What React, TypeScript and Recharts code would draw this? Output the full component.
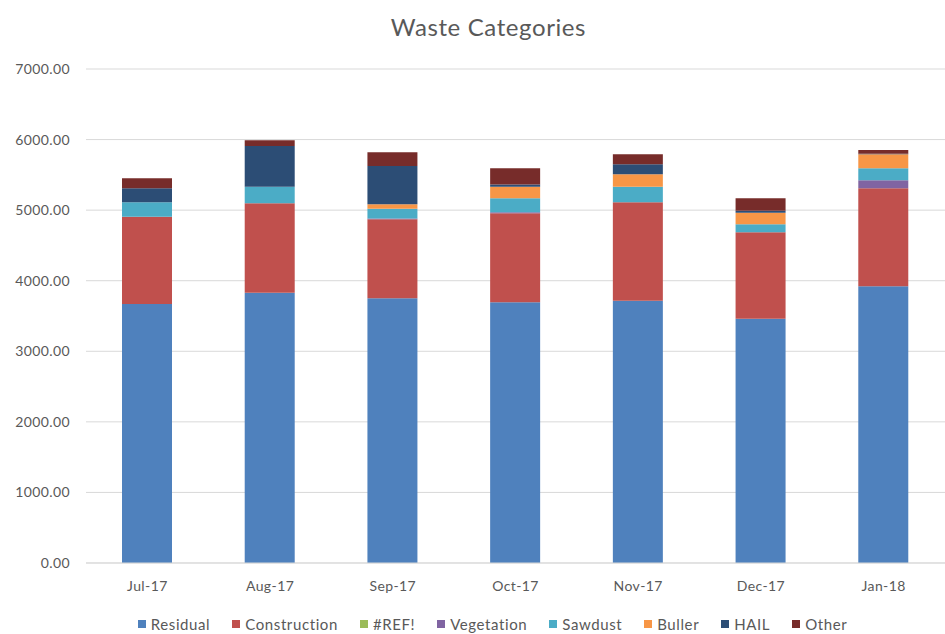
import { BarChart, Bar, XAxis, YAxis, CartesianGrid, Legend } from 'recharts'

const months = ['Jul-17', 'Aug-17', 'Sep-17', 'Oct-17', 'Nov-17', 'Dec-17', 'Jan-18']

const residual     = [3670, 3830, 3751, 3694, 3717, 3462, 3921]
const construction = [1237, 1267, 1119, 1261, 1394, 1224, 1389]
const refErr       = [0, 0, 0, 0, 0, 0, 0]
const vegetation   = [0, 0, 12, 15, 0, 0, 113]
const sawdust      = [204, 236, 139, 197, 222, 113, 170]
const buller       = [0, 0, 62, 165, 175, 165, 198]
const hail         = [199, 576, 543, 33, 142, 28, 8]
const other        = [141, 81, 194, 227, 141, 176, 53]

const yTicks = [0, 1000, 2000, 3000, 4000, 5000, 6000, 7000]

const series = [
  { key: 'Residual', values: residual, color: '#4f81bd' },
  { key: 'Construction', values: construction, color: '#c0504d' },
  { key: '#REF!', values: refErr, color: '#9bbb59' },
  { key: 'Vegetation', values: vegetation, color: '#8064a2' },
  { key: 'Sawdust', values: sawdust, color: '#4bacc6' },
  { key: 'Buller', values: buller, color: '#f79646' },
  { key: 'HAIL', values: hail, color: '#2c4d75' },
  { key: 'Other', values: other, color: '#772c2a' },
]

const data = months.map((m, i) => {
  const row: Record<string, string | number> = { month: m }
  series.forEach(s => { row[s.key] = s.values[i] })
  return row
})

const font = 'Lato, "Open Sans", sans-serif'
const tickStyle = { fontSize: 14, fill: '#595959', fontFamily: font, letterSpacing: 0.4 }

function LegendRow() {
  return (
    <div style={{ display: 'flex', justifyContent: 'center', gap: 22, fontFamily: font, fontSize: 15, lineHeight: '18px', letterSpacing: 0.6, color: '#595959', paddingLeft: 40, paddingTop: 8 }}>
      {series.map(s => (
        <div key={s.key} style={{ display: 'flex', alignItems: 'center', gap: 5 }}>
          <span style={{ width: 8, height: 8, background: s.color, display: 'inline-block' }} />
          <span>{s.key}</span>
        </div>
      ))}
    </div>
  )
}

export default function App() {
  return (
    <div style={{ position: 'absolute', left: 0, top: 0, width: 945, height: 634, background: '#fff', overflow: 'hidden' }}>
      <div style={{ position: 'absolute', top: 12, left: 32, width: 913, textAlign: 'center', fontFamily: font, fontSize: 24, letterSpacing: 0.6, color: '#595959' }}>
        Waste Categories
      </div>
      <BarChart width={945} height={660} data={data} margin={{ top: 69, right: 0, bottom: 0, left: 0 }} barSize={50}>
        <CartesianGrid vertical={false} stroke="#d9d9d9" />
        <XAxis dataKey="month" axisLine={{ stroke: '#d9d9d9' }} tickLine={false} tickMargin={12} height={44} tick={tickStyle} />
        <YAxis domain={[0, 7000]} ticks={yTicks} axisLine={false} tickLine={false} width={86} tickMargin={10}
          tickFormatter={(v: number) => v.toFixed(2)} tick={tickStyle} />
        <Legend verticalAlign="bottom" content={() => <LegendRow />} wrapperStyle={{ height: 53 }} />
        {series.map(s => (
          <Bar key={s.key} dataKey={s.key} stackId="a" fill={s.color} isAnimationActive={false} />
        ))}
      </BarChart>
    </div>
  )
}
